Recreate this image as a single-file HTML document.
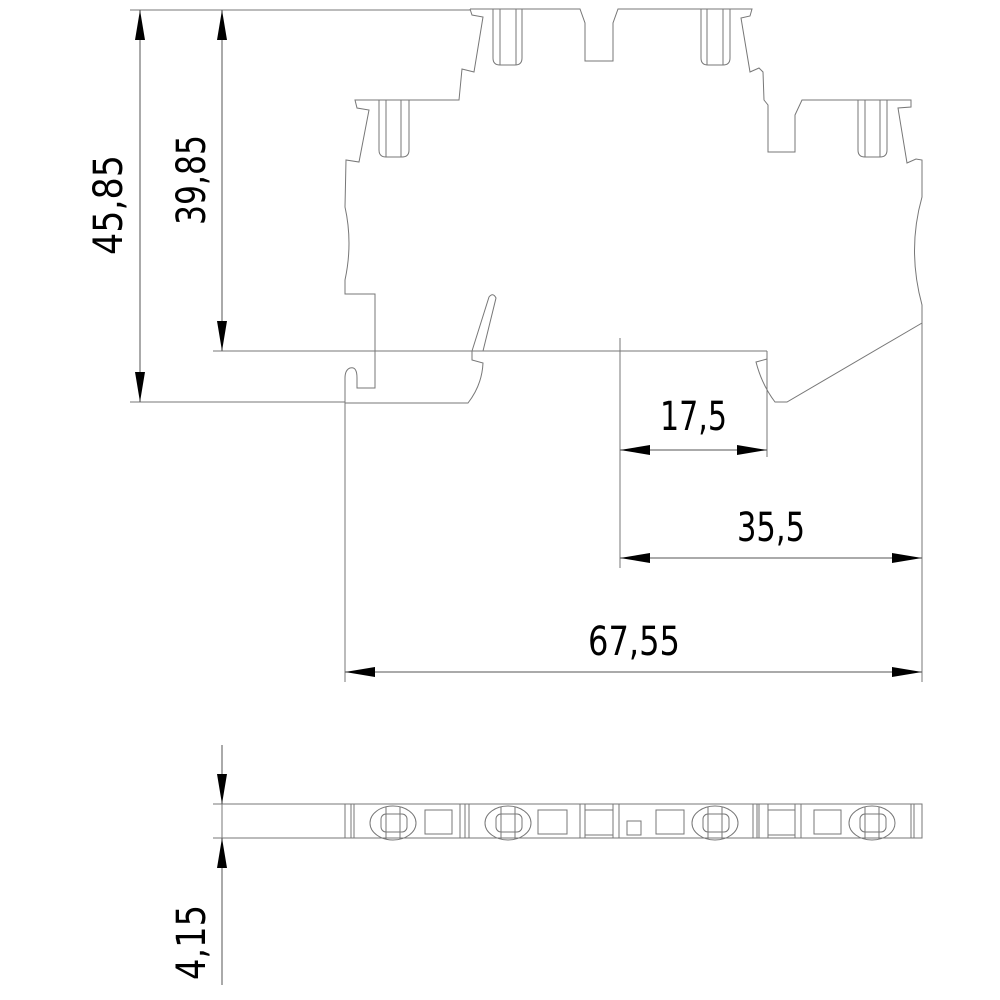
<!DOCTYPE html>
<html><head><meta charset="utf-8"><style>
html,body{margin:0;padding:0;background:#fff;}
svg{display:block;}
text{font-family:"DejaVu Sans","Liberation Sans",sans-serif;font-size:40px;fill:#000;}
</style></head><body>
<svg width="1000" height="1000" viewBox="0 0 1000 1000" xmlns="http://www.w3.org/2000/svg">
<defs>
<marker id="a" viewBox="0 0 30 10" refX="30" refY="5" markerWidth="30" markerHeight="10" markerUnits="userSpaceOnUse" orient="auto-start-reverse"><path d="M0,0 L30,5 L0,10 z" fill="#000"/></marker>
</defs>
<g fill="none" stroke="#777" stroke-width="1">
<path d="M470,9 L472,15 L483,17 L474,72 L462,69 L459,100 L355,100 L357,108 L369,110 L359,162 L346,160 L345,207 Q353,243 345,280 L345,294 L375,294 L375,388 L357,388 L357,378 Q357,366 350,368 Q345,370 345,378 L345,403 L468,403 Q482,385 483,363 L472,360 L472,351"/>
<path d="M472,351 L489,297 Q493,292 496,298 L483,351"/>
<path d="M470,9 L580,9 L585,23 L585,61 L613,61 L613,23 L618,9 L752,9 L750,16 L741,18 L750,72 L759,68 L763,72 L764,100 L768,105 L768,152 L795,152 L795,115 L802,100 L911,100 L911,107 L898,108 L907,163 L916,159 L922,160 L922,197 Q907,250 922,305 L922,323 L787,402 L775,402 Q762,385 756,362 L767,359"/>
<path d="M493,9 L493,58 Q493,65 500,65 L515,65 Q522,65 522,58 L522,9 M500,9 L500,65 M516,9 L516,65"/>
<path d="M701,9 L701,58 Q701,65 708,65 L723,65 Q730,65 730,58 L730,9 M707,9 L707,65 M723,9 L723,65"/>
<path d="M379,100 L379,150 Q379,157 386,157 L402,157 Q409,157 409,150 L409,100 M386,100 L386,157 M401,100 L401,157"/>
<path d="M858,100 L858,150 Q858,157 865,157 L880,157 Q887,157 887,150 L887,100 M865,100 L865,157 M880,100 L880,157"/>
<path d="M130,10 L470,10 M130,402 L345,402 M213,351 L767,351 M620,338 L620,568 M767,351 L767,457 M922,323 L922,682 M345,403 L345,682"/>
<path d="M213,804 L345,804 M213,838 L345,838 M222,745 L222,985"/>
<rect x="345" y="804" width="577" height="34"/>
<path d="M351,804V838M354,804V838M460,804V838M465,804V838M469,804V838M580,804V838M585,804V838M613,804V838M619,804V838M753,804V838M757,804V838M759,804V838M768,804V838M795,804V838M801,804V838M911,804V838M914,804V838"/>
<path d="M585,810H613M585,835H613M768,810H795M768,835H795"/>
<rect x="425" y="810" width="27" height="24"/><rect x="538" y="810" width="29" height="24"/>
<rect x="656" y="810" width="28" height="24"/><rect x="814" y="810" width="27" height="24"/>
<rect x="627" y="821" width="14" height="14"/>
<g id="c"><ellipse cx="393" cy="823" rx="23" ry="17"/><rect x="381" y="814" width="26" height="18" rx="5"/><path d="M386,807V839M400,807V839"/></g>
<use href="#c" x="115"/><use href="#c" x="322"/><use href="#c" x="479"/>
</g>
<g stroke="#555" stroke-width="1" fill="none">
<line x1="140" y1="10" x2="140" y2="402" marker-start="url(#a)" marker-end="url(#a)"/>
<line x1="222" y1="10" x2="222" y2="351" marker-start="url(#a)" marker-end="url(#a)"/>
<line x1="620" y1="450" x2="767" y2="450" marker-start="url(#a)" marker-end="url(#a)"/>
<line x1="620" y1="558" x2="922" y2="558" marker-start="url(#a)" marker-end="url(#a)"/>
<line x1="345" y1="672" x2="922" y2="672" marker-start="url(#a)" marker-end="url(#a)"/>
<line x1="222" y1="745" x2="222" y2="804" marker-end="url(#a)"/>
<line x1="222" y1="985" x2="222" y2="838" marker-end="url(#a)"/>
</g>
<text x="660" y="430" textLength="67" lengthAdjust="spacingAndGlyphs">17,5</text>
<text x="737" y="541" textLength="68" lengthAdjust="spacingAndGlyphs">35,5</text>
<text x="588" y="655" textLength="92" lengthAdjust="spacingAndGlyphs">67,55</text>
<text transform="translate(122,255) rotate(-90)" textLength="100" lengthAdjust="spacingAndGlyphs">45,85</text>
<text transform="translate(205,225) rotate(-90)" textLength="90" lengthAdjust="spacingAndGlyphs">39,85</text>
<text transform="translate(205,980) rotate(-90)" textLength="75" lengthAdjust="spacingAndGlyphs">4,15</text>
</svg>
</body></html>
